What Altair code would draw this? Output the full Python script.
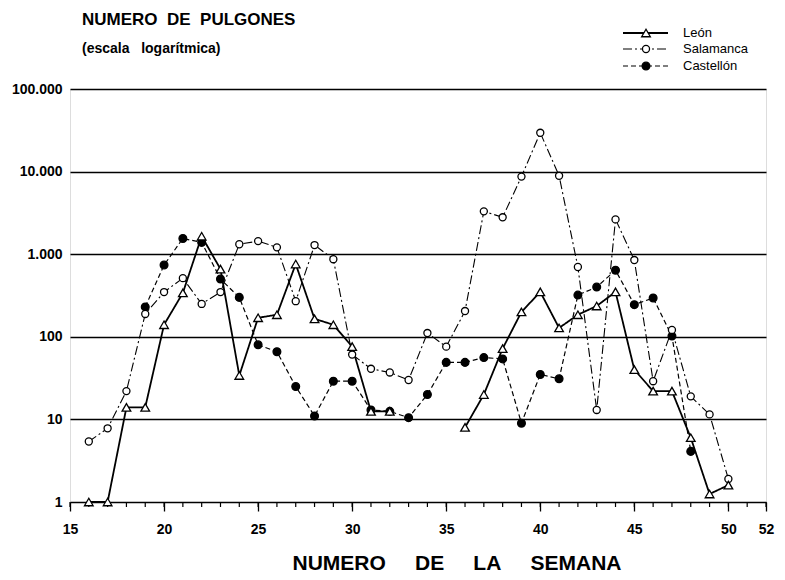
import altair as alt
import pandas as pd

# ---------------- data ----------------
weeks = list(range(16, 51))
leon = [1, 1, 14, 14, 140, 340, 1650, 660, 34, 170, 185, 760, 165, 140, 76,
        12.5, 12.5, None, None, None, 8, 20, 72, 200, 350, 128, 185, 236, 350,
        40, 22, 22, 6, 1.25, 1.6]
salamanca = [5.4, 7.8, 22, 189, 348, 513, 250, 348, 1320, 1440, 1210, 270, 1290,
             870, 61, 41, 37, 30, 111, 76, 205, 3300, 2800, 8700, 29500, 8900,
             700, 13, 2640, 850, 29, 121, 19, 11.5, 1.9]
castellon = [None, None, None, 230, 740, 1550, 1390, 500, 300, 80, 66, 25, 11,
             29, 29, 13, 12.5, 10.5, 20, 49, 49, 56, 54, 9, 35, 31, 320, 400,
             640, 245, 295, 102, 4.1, None, None]

series_names = ["León", "Salamanca", "Castellón"]
series_values = [leon, salamanca, castellon]

x_tick_labels = [15, 20, 25, 30, 35, 40, 45, 50, 52]
minor_weeks = list(range(15, 53))
y_tick_values = [1, 10, 100, 1000, 10000, 100000]
y_tick_labels = ["1", "10", "100", "1.000", "10.000", "100.000"]

NB = "\u00a0"
title_text = f"NUMERO{NB*2}DE{NB*2}PULGONES"
subtitle_text = f"(escala{NB*3}logarítmica)"
x_title_text = f"NUMERO{NB*5}DE{NB*5}LA{NB*5}SEMANA"

# ---------------- build long table ----------------
rows = []
for name, vals in zip(series_names, series_values):
    seg = 0
    prev_none = True
    for w, v in zip(weeks, vals):
        if v is None:
            prev_none = True
            continue
        if prev_none:
            seg += 1
            prev_none = False
        rows.append({"week": w, "value": v, "series": name, "seg": f"{name}-{seg}"})
df = pd.DataFrame(rows)
ticks_df = pd.DataFrame({"week": minor_weeks})
one = pd.DataFrame({"k": [0]})

FONT = "Liberation Sans"
W, H = 696, 413

y_expr = " : ".join(f"datum.value == {v} ? '{l}'" for v, l in zip(y_tick_values, y_tick_labels)) + " : ''"

x_enc = alt.X(
    "week:Q",
    scale=alt.Scale(domain=[15, 52], nice=False, zero=False),
    axis=alt.Axis(values=x_tick_labels, format="d", tickSize=9, tickColor="black",
                  tickWidth=1.3, domain=False, grid=False, title=None,
                  labelFont=FONT, labelFontWeight="bold", labelFontSize=14,
                  labelColor="black", labelPadding=11, labelFlush=False,
                  labelOverlap=False),
)
y_enc = alt.Y(
    "value:Q",
    scale=alt.Scale(type="log", domain=[1, 100000], nice=False),
    axis=alt.Axis(values=y_tick_values, labelExpr=y_expr, ticks=False, domain=False,
                  grid=True, gridColor="black", gridWidth=1.3, gridOpacity=1,
                  title=None, labelFont=FONT, labelFontWeight="bold",
                  labelFontSize=14, labelColor="black", labelPadding=8),
)

styles = {
    "León": dict(dash=[1, 0], width=1.8, shape="triangle-up", fill="white", size=75),
    "Salamanca": dict(dash=[9, 3, 2, 3], width=1.1, shape="circle", fill="white", size=50),
    "Castellón": dict(dash=[5, 3], width=1.2, shape="circle", fill="black", size=60),
}

layers = []
# minor ticks on the x axis
layers.append(
    alt.Chart(ticks_df).mark_rule(color="black", strokeWidth=1.2).encode(
        x=x_enc, y=alt.value(H), y2=alt.value(H + 5)
    )
)
# lines
for name in series_names:
    st = styles[name]
    layers.append(
        alt.Chart(df[df.series == name]).mark_line(
            color="black", strokeDash=st["dash"], strokeWidth=st["width"]
        ).encode(x=x_enc, y=y_enc, detail="seg:N", order="week:Q")
    )
# points (drawn last so markers sit on top)
for name in ["Castellón", "Salamanca", "León"]:
    st = styles[name]
    layers.append(
        alt.Chart(df[df.series == name]).mark_point(
            shape=st["shape"], filled=True, fill=st["fill"], stroke="black",
            strokeWidth=1.3, size=st["size"], opacity=1
        ).encode(x=x_enc, y=y_enc)
    )

# titles
layers.append(alt.Chart(one).mark_text(
    text=title_text, font=FONT, fontWeight="bold", fontSize=17, align="left",
    baseline="middle", color="black").encode(x=alt.value(12), y=alt.value(-69)))
layers.append(alt.Chart(one).mark_text(
    text=subtitle_text, font=FONT, fontWeight="bold", fontSize=14, align="left",
    baseline="middle", color="black").encode(x=alt.value(12), y=alt.value(-40)))
layers.append(alt.Chart(one).mark_text(
    text=x_title_text, font=FONT, fontWeight="bold", fontSize=21, align="center",
    baseline="middle", color="black").encode(x=alt.value(387), y=alt.value(475)))

# legend
legend_y = [-56, -40, -23]
for name, ly in zip(series_names, legend_y):
    st = styles[name]
    layers.append(alt.Chart(one).mark_rule(
        color="black", strokeDash=st["dash"], strokeWidth=st["width"]).encode(
        x=alt.value(553), x2=alt.value(598), y=alt.value(ly)))
    layers.append(alt.Chart(one).mark_point(
        shape=st["shape"], filled=True, fill=st["fill"], stroke="black",
        strokeWidth=1.3, size=st["size"], opacity=1).encode(
        x=alt.value(576), y=alt.value(ly)))
    layers.append(alt.Chart(one).mark_text(
        text=name, font=FONT, fontSize=13, align="left", baseline="middle",
        color="black").encode(x=alt.value(613), y=alt.value(ly)))

chart = alt.layer(*layers).properties(
    width=W, height=H,
    autosize=alt.AutoSizeParams(type="none"),
    padding={"left": 62, "top": 81, "right": 11, "bottom": 78},
).configure_view(stroke="black", strokeWidth=1.5).configure(background="white")

chart.save("out.html", embed_options={"renderer": "svg", "actions": False})
